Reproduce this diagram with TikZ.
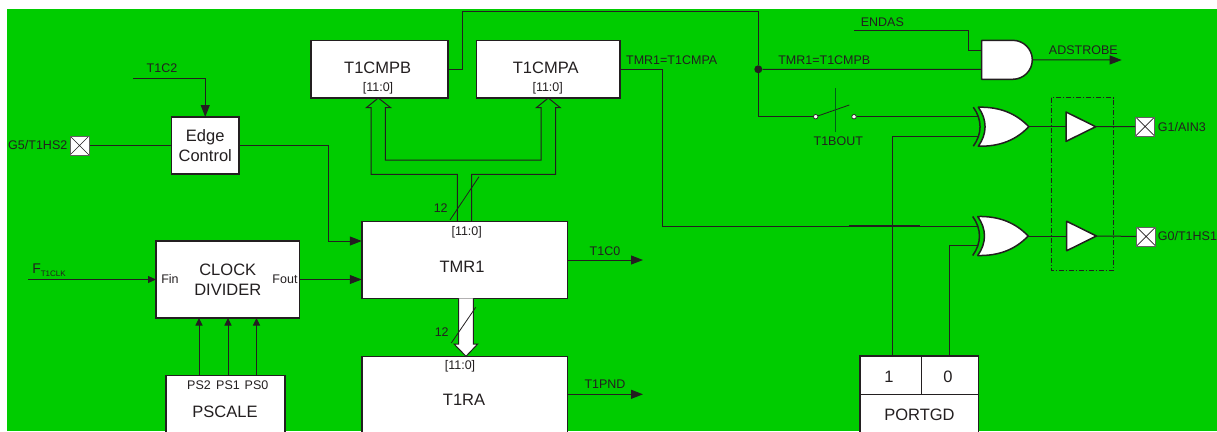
\documentclass[tikz,border=0pt]{standalone}
\usepackage{fontspec}
\setmainfont{Liberation Sans}
\usetikzlibrary{arrows.meta,calc,positioning}
\definecolor{boardgreen}{RGB}{0,204,0}
\definecolor{ink}{RGB}{35,31,32}
\definecolor{gangline}{RGB}{0,95,25}
\newcommand{\bigfont}{\fontsize{16.5}{20}\selectfont}
\newcommand{\smallfont}{\fontsize{12.5}{15}\selectfont}
\tikzset{
    gatebody/.style={draw=ink, fill=white, line width=1.5pt, line join=round},
    andgate/.pic={
        \draw[gatebody] (0,-19.5) -- (31,-19.5) .. controls (41.8,-19.5) and (50.6,-10.8) .. (50.6,0)
            .. controls (50.6,10.8) and (41.8,19.5) .. (31,19.5) -- (0,19.5) -- cycle;
        \coordinate (-in1) at (0,-9.5);
        \coordinate (-in2) at (0,9.5);
        \coordinate (-out) at (50.6,0);
    },
    xorgate/.pic={
        \draw[gatebody] (0,-19.5) .. controls (22,-20) and (38,-13) .. (50.5,0)
            .. controls (38,13) and (22,20) .. (0,19.5) .. controls (9,7) and (9,-7) .. (0,-19.5) -- cycle;
        \draw[draw=ink, line width=1.5pt] (-5,-19.5) .. controls (4,-7) and (4,7) .. (-5,19.5);
        \coordinate (-in1) at (-.5,-10);
        \coordinate (-in2) at (-.5,9.5);
        \coordinate (-out) at (50.5,0);
    },
    bufgate/.pic={
        \draw[gatebody] (0,-14.7) -- (29.7,0) -- (0,14.7) -- cycle;
        \coordinate (-in) at (0,0);
        \coordinate (-out) at (29.7,0);
    }
}
\begin{document}
\begin{tikzpicture}[x=1pt, y=-1pt, color=ink, text=ink,
    box/.style={rectangle, draw=ink, fill=white, line width=1.5pt, inner sep=0pt, outer sep=0pt, font=\bigfont, align=center},
    big/.style={inner sep=0pt, font=\bigfont, align=center},
    tag/.style={inner sep=0pt, font=\smallfont},
    wire/.style={line width=1pt, draw=ink},
    sig/.style={wire, -{Triangle[length=12pt,width=9pt]}},
    tinysig/.style={wire, -{Triangle[length=7.5pt,width=7pt]}},
    bus/.style={line width=1pt, draw=ink, line join=miter},
    pad/.style={rectangle, draw=ink!70, fill=white, line width=1pt, minimum size=19pt, inner sep=0pt,
        path picture={\draw[ink, line width=.7pt] (path picture bounding box.north west) -- (path picture bounding box.south east)
            (path picture bounding box.north east) -- (path picture bounding box.south west);}},
    contact/.style={circle, draw=ink, fill=white, line width=.7pt, minimum size=4.5pt, inner sep=0pt},
    dot/.style={circle, fill=ink, minimum size=8pt, inner sep=0pt}]
    \clip (0,0) rectangle (1217,431);
    \useasboundingbox (0,0) rectangle (1217,431);
    \fill[boardgreen] (7,9) rectangle (1217,431);

    \node[box, minimum width=137pt, minimum height=57.5pt] (t1cmpb) at (379.5,69.25) {};
    \node[box, minimum width=143.5pt, minimum height=57.5pt, right=28.5pt of t1cmpb] (t1cmpa) {};
    \node[box, minimum width=67.5pt, minimum height=57pt] (edge) at (205.25,145.5) {Edge\\Control};
    \node[box, minimum width=143.5pt, minimum height=77pt] (clock) at (227.75,279.5) {CLOCK\\DIVIDER};
    \node[box, minimum width=205.5pt, minimum height=76.6pt] (tmr) at (464.5,260) {};
    \node[box, minimum width=205.5pt, minimum height=86pt, below=58pt of tmr] (t1ra) {};
    \node[box, minimum width=119pt, minimum height=76pt] (pscale) at (225.5,413.7) {};
    \node[box, minimum width=118.3pt, minimum height=86pt] (portgd) at (919.2,399) {};

    \node[big] (t1cmpbtext) at (377.7,68) {T1CMPB};
    \node[big] (t1cmpatext) at (545.7,68) {T1CMPA};
    \node[big] (tmrtext) at (462,267) {TMR1};
    \node[big] (t1ratext) at (464,400) {T1RA};
    \node[big] (pscaletext) at (225,411.7) {PSCALE};
    \node[big] (portgdtext) at (919.5,415) {PORTGD};
    \node[big] (portone) at (889,376.7) {1};
    \node[big] (portzero) at (948,376.7) {0};
    \node[tag] (bitsb) at (378,88.7) {[11:0]};
    \node[tag] (bitsa) at (547.7,88.7) {[11:0]};
    \node[tag] (bitstmr) at (466.7,232) {[11:0]};
    \node[tag] (bitsra) at (460,366) {[11:0]};
    \node[tag] (finlabel) at (170,279.3) {Fin};
    \node[tag] (foutlabel) at (285,279.3) {Fout};
    \node[tag] (pstwo) at (199,385) {PS2};
    \node[tag] (psone) at (228,385) {PS1};
    \node[tag] (pszero) at (256.5,385) {PS0};

    \draw (portgd.west |- 0,394) -- (portgd.east |- 0,394);
    \draw (921,356) -- (921,394);

    \node[pad] (padg) at (79.5,145.5) {};
    \node[tag, left=2pt of padg] (padglabel) {G5/T1HS2};
    \coordinate (t1ctwo) at (133,78.5);
    \node[tag] (t1ctwolabel) at (162,68) {T1C2};
    \draw[sig] (t1ctwo) -| (edge.north);
    \draw[wire] (padg) -- (edge);
    \coordinate (tmredge) at (tmr.west |- 0,241);
    \draw[sig] (edge.east) -| (328,241) -- (tmredge);
    \coordinate (fclk) at (28,279.5);
    \node[inner sep=0pt] (fclklabel) at (49,270) {\fontsize{14}{14}\selectfont F\raisebox{-3pt}{\fontsize{8}{8}\selectfont T1CLK}};
    \draw[sig, -{Triangle[length=8pt,width=7pt]}] (fclk) -- (clock.west);
    \draw[sig] (clock.east) -- (clock.east -| tmr.west);
    \foreach \px in {199,228,256.5}
        \draw[tinysig] (\px,375.7) -- (\px,318);

    \draw[bus] ([xshift=-7.2pt]tmr.north) |- (371,174.3) -- (371,107.7) -- (366.3,107.7) -- (t1cmpb.south -| 378.3,0)
        -- (390.7,107.7) -- (385.3,107.7) -- (385.3,160) -- (541,160) -- (541,107.7) -- (536.3,107.7)
        -- (t1cmpa.south -| 548.3,0) -- (560.3,107.7) -- (555.7,107.7) -- (555.7,174.3) -| ([xshift=7.2pt]tmr.north);
    \draw[wire, line width=.8pt] (450,220) -- (479,176.7);
    \node[tag] (buslabela) at (440.7,207.7) {12};
    \draw[bus, fill=white] (458.7,298.3) -- (458.7,344) -- (454,344) -- (t1ra.north -| 466,0) -- (477.7,344) -- (473.3,344) -- (473.3,298.3);
    \draw[wire, line width=.8pt] (451.3,343) -- (475.7,307.3);
    \node[tag] (buslabelb) at (441.7,331.7) {12};

    \coordinate (tcout) at (643,260);
    \coordinate (tpout) at (643,394.3);
    \draw[sig] (tmr.east) -- (tcout);
    \draw[sig] (t1ra.east |- tpout) -- (tpout);
    \node[tag] (tclabel) at (605,250.7) {T1C0};
    \node[tag] (tplabel) at (605,384) {T1PND};

    \pic (andone) at (981.7,59.8) {andgate};
    \pic (xorone) at (978.3,126.7) {xorgate};
    \pic (xortwo) at (977.7,236) {xorgate};
    \pic (bufone) at (1066,126.7) {bufgate};
    \pic (buftwo) at (1066.7,236) {bufgate};
    \node[pad] (padone) at (1145,126.5) {};
    \node[pad] (padtwo) at (1146,236.5) {};
    \node[tag, anchor=west] (padonelabel) at (1157.7,126.7) {G1/AIN3};
    \node[tag, anchor=west] (padtwolabel) at (1157.7,236.5) {G0/T1HS1};
    \draw[line width=.8pt, dash pattern=on 5pt off 2pt on 1pt off 2pt] (1051.3,97.7) rectangle (1113.7,270.3);

    \node[dot] (tapb) at (758.3,69.25) {};
    \node[contact] (swleft) at (815.7,116.7) {};
    \node[contact] (swright) at (854,116.7) {};
    \coordinate (bladeend) at (849.3,105);
    \draw[wire, line width=.8pt] (swleft) -- (bladeend);
    \draw[gangline, line width=.8pt] (835,88.3) -- (835,131.7);
    \node[tag] (swlabel) at (838.3,140.7) {T1BOUT};

    \draw[wire] (t1cmpb.east) -| (462.3,11.7) -| (tapb);
    \draw[wire] (tapb) |- (swleft);
    \draw[wire] (tapb) -- (andone-in2);
    \draw[wire] (swright) -- (xorone-in1);
    \draw[wire] (t1cmpa.east) -| (662.7,226) -- (xortwo-in1);
    \draw[line width=2pt] (849,226) -- (920,226);
    \draw[wire] (892.3,356) |- (xorone-in2);
    \draw[wire] (949.7,356) |- (xortwo-in2);
    \draw[wire] (xorone-out) -- (bufone-in);
    \draw[wire] (xortwo-out) -- (buftwo-in);
    \draw[wire] (bufone-out) -- (padone);
    \draw[wire] (buftwo-out) -- (padtwo);
    \coordinate (adsout) at (1121.7,60);
    \draw[sig] (andone-out) -- (adsout);
    \coordinate (endas) at (854,30.7);
    \draw[wire] (endas) -| (968.7,50.3) -- (andone-in1);

    \node[tag] (endaslabel) at (882.3,21.7) {ENDAS};
    \node[tag] (adslabel) at (1083.3,49.7) {ADSTROBE};
    \node[tag] (cmpalabel) at (671.7,60) {TMR1=T1CMPA};
    \node[tag] (cmpblabel) at (824.3,60) {TMR1=T1CMPB};
\end{tikzpicture}
\end{document}
